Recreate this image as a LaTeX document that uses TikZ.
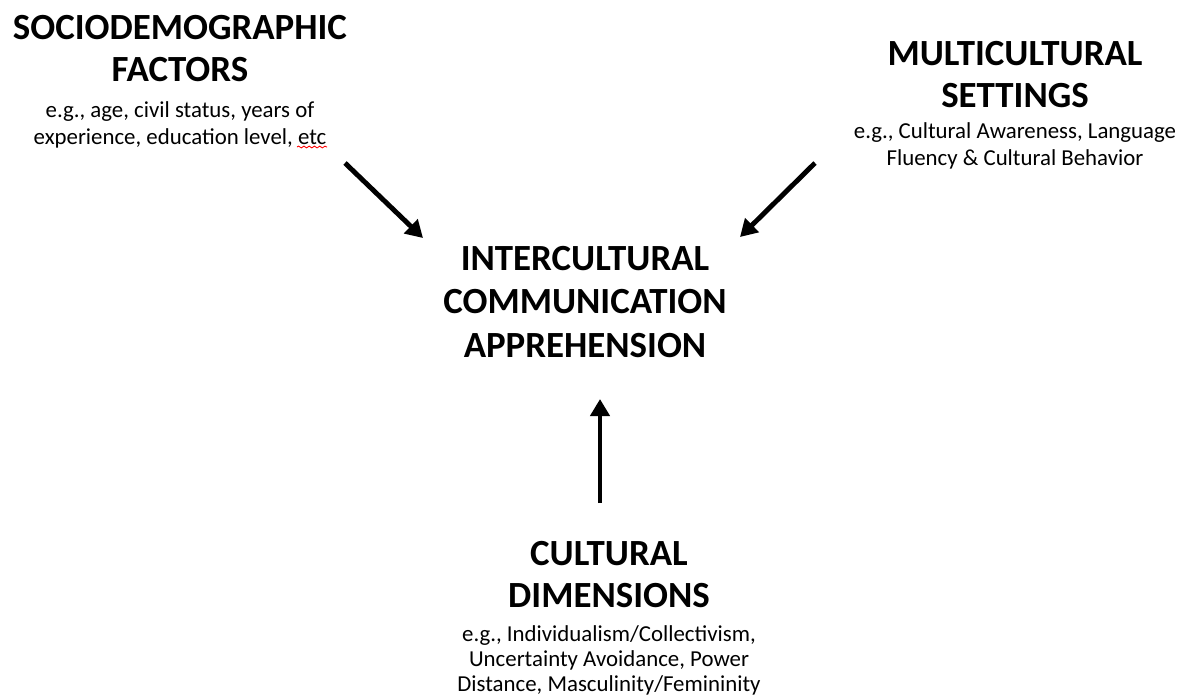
\documentclass[tikz,border=0pt]{standalone}
\usepackage{fontspec}
\setmainfont{Carlito}
\usetikzlibrary{arrows.meta,positioning,decorations.pathmorphing}

\newcommand{\headfont}{\fontsize{21}{24}\selectfont\bfseries}
\newcommand{\notefont}{\fontsize{13}{15.6}\selectfont}

\begin{document}
\begin{tikzpicture}[x=0.02cm,y=-0.02cm,
  head/.style={font=\headfont,align=center,inner sep=0pt},
  note/.style={font=\notefont,align=center,inner sep=0pt},
  flow/.style={line width=2.8pt,-{Triangle[length=0.34cm,width=0.38cm]}}]
  \useasboundingbox (0,0) rectangle (1182,698);

  \node[head,anchor=north] (socio) at (180,15) {SOCIODEMOGRAPHIC\\FACTORS};
  \node[note,below=0.38cm of socio] (sociotxt) {e.g., age, civil status, years of\\experience, education level, etc};
  \draw[red,line width=0.5pt,decorate,decoration={snake,amplitude=0.5pt,segment length=3pt}]
    (297,147) -- (327,147);

  \node[head,anchor=north] (multi) at (1015,41) {MULTICULTURAL\\SETTINGS};
  \node[note,below=0.28cm of multi] (multitxt) {e.g., Cultural Awareness, Language\\Fluency \& Cultural Behavior};

  \node[head,anchor=north,font=\fontsize{21}{24.6}\selectfont\bfseries] (icc) at (585,246) {INTERCULTURAL\\COMMUNICATION\\APPREHENSION};

  \node[head,anchor=north] (cult) at (609,541) {CULTURAL\\DIMENSIONS};
  \node[note,below=0.34cm of cult,font=\fontsize{13}{14.2}\selectfont] (culttxt) {e.g., Individualism/Collectivism,\\Uncertainty Avoidance, Power\\Distance, Masculinity/Femininity};

  \coordinate (sociotail) at (345,163);
  \coordinate (sociotip) at (423,238);
  \coordinate (multitail) at (815,163);
  \coordinate (multitip) at (740,237);
  \coordinate (culttail) at (600,503);
  \coordinate (culttip) at (600,399);

  \draw[flow] (sociotail) -- (sociotip);
  \draw[flow] (multitail) -- (multitip);
  \draw[flow] (culttail) -- (culttip);

\end{tikzpicture}
\end{document}
